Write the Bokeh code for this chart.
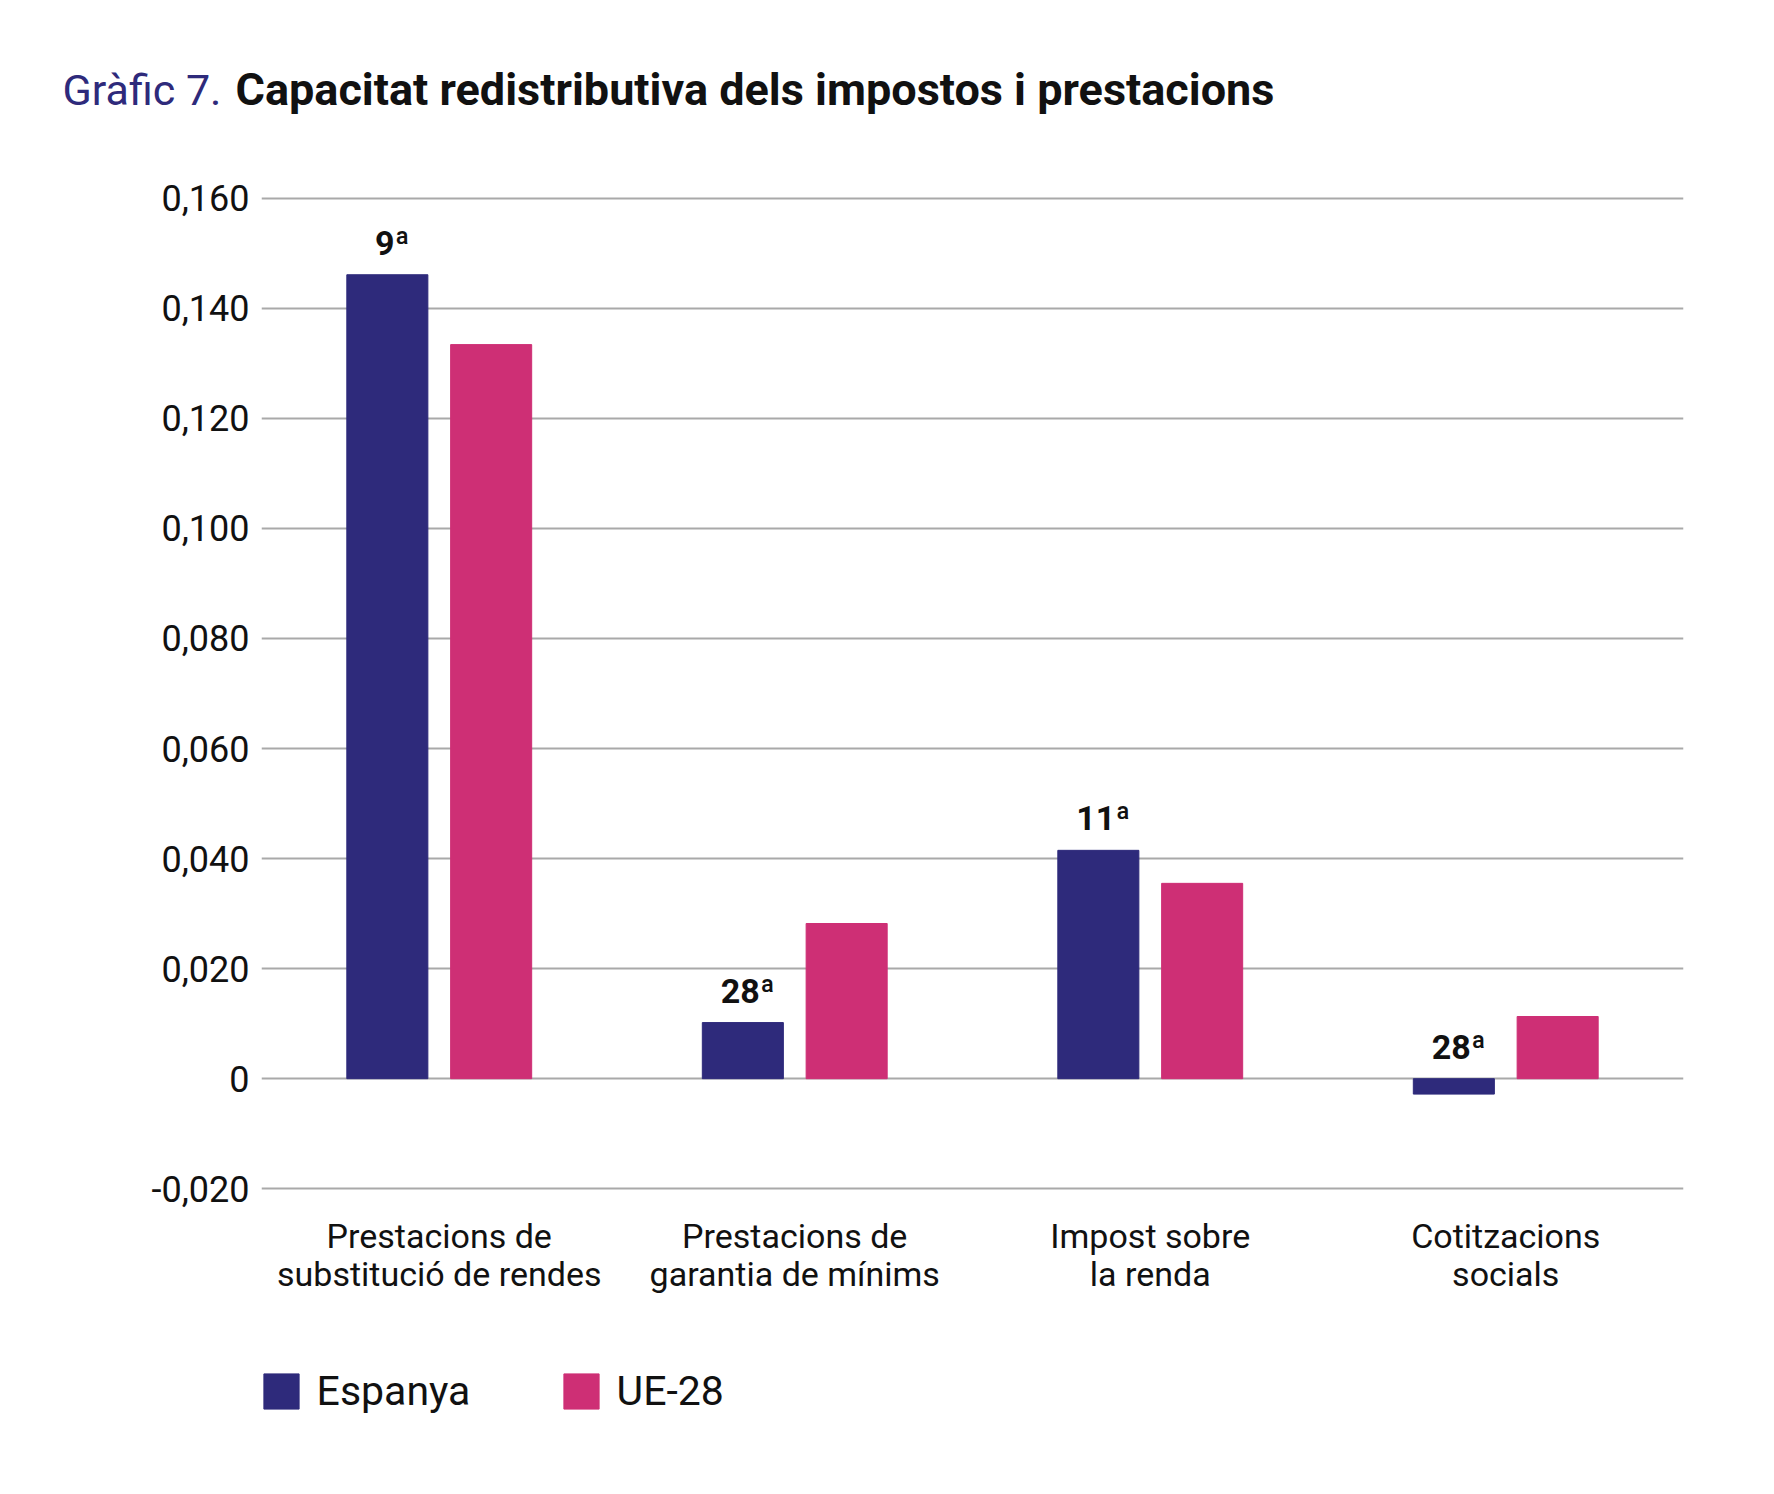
from bokeh.plotting import figure
from bokeh.models import (ColumnDataSource, FactorRange, Range1d, FixedTicker,
                          LabelSet, Legend, LegendItem)
from bokeh.transform import dodge
from bokeh.core.properties import value
from bokeh.embed import file_html
from bokeh.resources import INLINE

# ---- data ----
categories = ["Prestacions de\nsubstitució de rendes",
              "Prestacions de\ngarantia de mínims",
              "Impost sobre\nla renda",
              "Cotitzacions\nsocials"]
espanya = [0.1461, 0.0102, 0.0415, -0.0028]
ue28 = [0.1334, 0.0282, 0.0355, 0.0113]
ranks = ["9ª", "28ª", "11ª", "28ª"]
series_names = ["Espanya", "UE-28"]
tick_values = [-0.02, 0.0, 0.02, 0.04, 0.06, 0.08, 0.10, 0.12, 0.14, 0.16]
tick_labels = ["-0,020", "0", "0,020", "0,040", "0,060", "0,080",
               "0,100", "0,120", "0,140", "0,160"]
title_prefix = "Gràfic 7."
title_main = "Capacitat redistributiva dels impostos i prestacions"

NAVY = "#2E2A7B"
PINK = "#CE2F75"
GRID = "#a9a9a9"
TXT = "#111111"
W = 1770


def bare(fig):
    fig.outline_line_color = None
    fig.xaxis.visible = False
    fig.yaxis.visible = False
    fig.xgrid.grid_line_color = None
    fig.ygrid.grid_line_color = None
    return fig


# ---- title strip ----
TH = 150
t = bare(figure(width=W, height=TH, x_range=Range1d(0, W), y_range=Range1d(0, TH),
                min_border=0, output_backend="svg", toolbar_location=None))
t.text(x=[62], y=[TH - 89], text=[title_prefix], text_font=value("Roboto"),
       text_font_size="43px", text_color=NAVY, text_baseline="alphabetic")
t.text(x=[235], y=[TH - 89], text=[title_main], text_font=value("Roboto"),
       text_font_style="bold", text_font_size="45px", text_color=TXT,
       text_baseline="alphabetic")

# ---- main chart ----
src = ColumnDataSource(dict(cat=categories, esp=espanya, ue=ue28,
                            lab_y=[max(v, 0) for v in espanya], ranks=ranks))

p = figure(x_range=FactorRange(*categories, range_padding=0),
           y_range=Range1d(-0.0205, 0.1605),
           width=W, height=1170,
           min_border_left=261, min_border_right=W - 1683,
           min_border_top=45, min_border_bottom=129,
           output_backend="svg", toolbar_location=None)

p.outline_line_color = None
p.xgrid.grid_line_color = None
p.ygrid.grid_line_color = GRID
p.ygrid.grid_line_width = 2

p.yaxis.ticker = FixedTicker(ticks=tick_values)
p.yaxis.major_label_overrides = {v: l for v, l in zip(tick_values, tick_labels)}
p.yaxis.axis_line_color = None
p.yaxis.major_tick_line_color = None
p.yaxis.minor_tick_line_color = None
p.yaxis.major_label_standoff = 6
p.yaxis.major_label_text_font = "Roboto"
p.yaxis.major_label_text_font_size = "36px"
p.yaxis.major_label_text_color = TXT

p.xaxis.axis_line_color = None
p.xaxis.major_tick_line_color = None
p.xaxis.minor_tick_line_color = None
p.xaxis.major_label_standoff = 18
p.xaxis.major_label_text_font = "Roboto"
p.xaxis.major_label_text_font_size = "34px"
p.xaxis.major_label_text_line_height = 0.97
p.xaxis.major_label_text_color = TXT

r1 = p.vbar(x=dodge('cat', -0.146, range=p.x_range), top='esp', bottom=0,
            width=0.228, source=src, fill_color=NAVY, line_color=NAVY)
r2 = p.vbar(x=dodge('cat', 0.146, range=p.x_range), top='ue', bottom=0,
            width=0.228, source=src, fill_color=PINK, line_color=PINK)

p.add_layout(LabelSet(x=dodge('cat', -0.146, range=p.x_range), y='lab_y',
                      text='ranks', source=src, text_align='center',
                      text_baseline='alphabetic', y_offset=20, x_offset=5,
                      text_font=value("Roboto"), text_font_style='bold',
                      text_font_size='34px', text_color=TXT))

# ---- legend strip ----
LH = 170
lg = bare(figure(width=W, height=LH, x_range=Range1d(0, W), y_range=Range1d(0, LH),
                 min_border=0, output_backend="svg", toolbar_location=None))
hidden = ColumnDataSource(dict(x=[-100], top=[-100]))
lr1 = lg.vbar(x='x', top='top', width=1, source=hidden, fill_color=NAVY, line_color=NAVY)
lr2 = lg.vbar(x='x', top='top', width=1, source=hidden, fill_color=PINK, line_color=PINK)
for name, rend, lx in [(series_names[0], lr1, 258.6), (series_names[1], lr2, 558.6)]:
    leg = Legend(items=[LegendItem(label=name, renderers=[rend])],
                 location=(lx, 75), padding=0, margin=0, spacing=0,
                 glyph_width=44, glyph_height=44, label_standoff=14,
                 label_text_font="Roboto", label_text_font_size="41px",
                 label_text_color=TXT, border_line_color=None,
                 background_fill_alpha=0)
    lg.add_layout(leg)

open("out.html", "w").write(file_html([t, p, lg], INLINE))
